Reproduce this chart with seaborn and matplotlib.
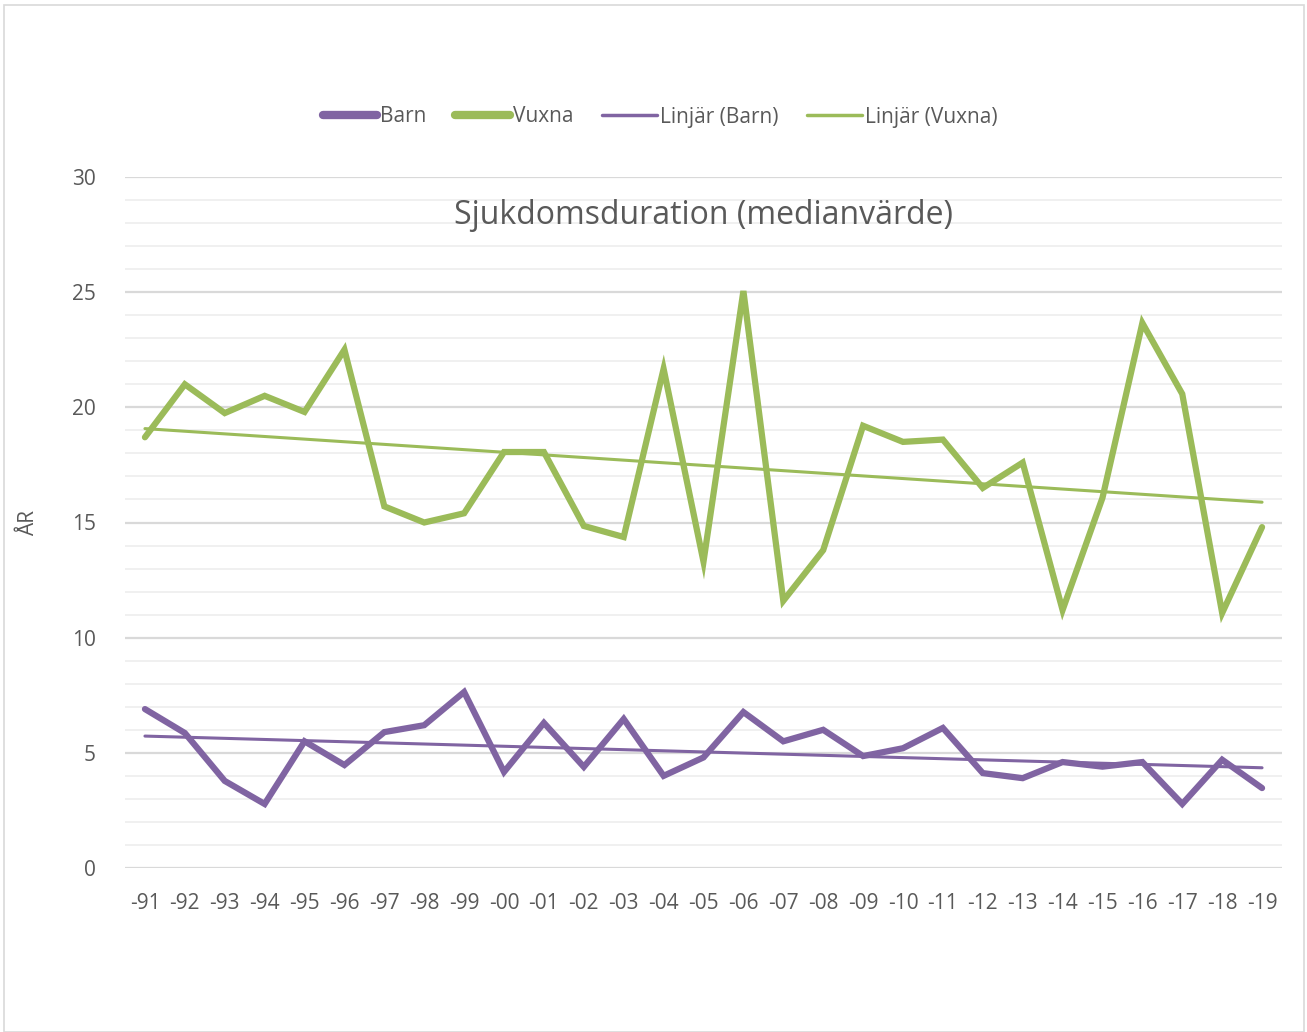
import numpy as np
import pandas as pd
import matplotlib
matplotlib.use("Agg")
import matplotlib.pyplot as plt
import seaborn as sns
from matplotlib.lines import Line2D
from matplotlib.patches import Rectangle

years = ["-91", "-92", "-93", "-94", "-95", "-96", "-97", "-98", "-99", "-00",
         "-01", "-02", "-03", "-04", "-05", "-06", "-07", "-08", "-09", "-10",
         "-11", "-12", "-13", "-14", "-15", "-16", "-17", "-18", "-19"]
vuxna = [18.7, 21.0, 19.75, 20.5, 19.8, 22.5, 15.7, 15.0, 15.4, 18.06,
         18.06, 14.85, 14.37, 21.67, 13.3, 25.05, 11.6, 13.8, 19.2, 18.5,
         18.6, 16.5, 17.6, 11.2, 16.07, 23.66, 20.58, 11.07, 14.8]
barn = [6.9, 5.86, 3.78, 2.78, 5.5, 4.47, 5.9, 6.2, 7.64, 4.17,
        6.3, 4.39, 6.47, 4.0, 4.8, 6.77, 5.5, 6.0, 4.86, 5.2,
        6.08, 4.12, 3.9, 4.6, 4.4, 4.6, 2.78, 4.7, 3.47]
yticks = [0, 5, 10, 15, 20, 25, 30]

PURPLE = "#8064A2"
GREEN = "#9BBB59"
TXT = "#595959"

df = pd.DataFrame({"idx": np.arange(len(years)), "year": years,
                   "Barn": barn, "Vuxna": vuxna})

sns.set_theme(style="white")
plt.rcParams["font.family"] = ["Open Sans", "DejaVu Sans"]

fig = plt.figure(figsize=(13.07, 10.32), dpi=100)
ax = fig.add_axes([125/1307, 1-868/1032, (1282-125)/1307, (868-177)/1032])

# gridlines
for v in range(0, 31):
    major = v % 5 == 0
    ax.axhline(v, color="#D9D9D9" if major else "#F0F0F0",
               lw=1.6 if major else 1.4, zorder=0)

sns.lineplot(data=df, x="idx", y="Vuxna", color=GREEN, lw=4.5, ax=ax,
             solid_capstyle="round", solid_joinstyle="miter", zorder=3)
sns.lineplot(data=df, x="idx", y="Barn", color=PURPLE, lw=4.5, ax=ax,
             solid_capstyle="round", solid_joinstyle="miter", zorder=3)
sns.regplot(data=df, x="idx", y="Vuxna", scatter=False, ci=None, ax=ax,
            line_kws=dict(color=GREEN, lw=2.2, solid_capstyle="round", zorder=4))
sns.regplot(data=df, x="idx", y="Barn", scatter=False, ci=None, ax=ax,
            line_kws=dict(color=PURPLE, lw=2.2, solid_capstyle="round", zorder=4))

ax.set_xlim(-0.5, len(years) - 0.5)
ax.set_ylim(0, 30)
ax.set_xticks(df["idx"])
ax.set_xticklabels(years)
ax.set_yticks(yticks)
ax.tick_params(axis="both", length=0, labelsize=15, colors=TXT)
ax.tick_params(axis="x", pad=18)
ax.tick_params(axis="y", pad=21)
for s in ax.spines.values():
    s.set_visible(False)
ax.set_xlabel("")
ax.set_ylabel("ÅR", fontsize=15, color=TXT)
ax.yaxis.set_label_coords(-0.074, 0.5)

ax.text(0.5, 0.944, "Sjukdomsduration (medianvärde)", transform=ax.transAxes,
        ha="center", va="center", fontsize=23, color=TXT)

handles = [Line2D([], [], color=PURPLE, lw=6, solid_capstyle="round"),
           Line2D([], [], color=GREEN, lw=6, solid_capstyle="round"),
           Line2D([], [], color=PURPLE, lw=2.5),
           Line2D([], [], color=GREEN, lw=2.5)]
labels = ["Barn", "Vuxna", "Linjär (Barn)", "Linjär (Vuxna)"]
fig.legend(handles, labels, loc="center", bbox_to_anchor=(660/1307, 1-117/1032),
           ncol=4, frameon=False, fontsize=15, handlelength=2.6,
           handletextpad=0.15, columnspacing=1.4, labelcolor=TXT)

fig.patches.append(Rectangle((4/1307, 0), 1300/1307, 1027/1032, transform=fig.transFigure,
                             fill=False, edgecolor="#D9D9D9", lw=1.2))

fig.savefig("out.png", dpi=100, facecolor="white")
